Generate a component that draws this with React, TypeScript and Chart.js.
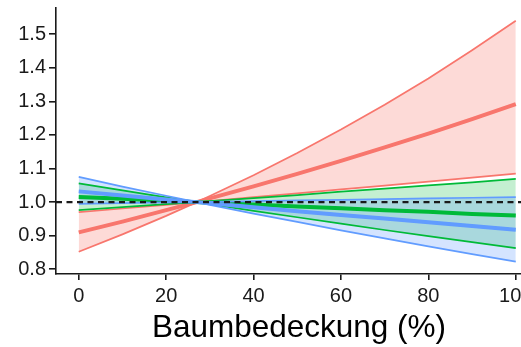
import React, { useEffect, useRef } from "react";
import { Chart, registerables } from "chart.js";

Chart.register(...registerables);

// Tree cover (%) at which the curves are sampled
const coverage = [0, 10, 20, 27, 30, 40, 50, 60, 70, 80, 90, 100];

// Relative effect with confidence band, one group per colour
const redMean = [0.910, 0.942, 0.976, 1.000, 1.011, 1.047, 1.084, 1.123, 1.163, 1.204, 1.247, 1.292];
const redUpper = [0.970, 0.981, 0.992, 1.000, 1.018, 1.080, 1.146, 1.216, 1.290, 1.368, 1.452, 1.540];
const redLower = [0.852, 0.904, 0.959, 1.000, 1.003, 1.015, 1.026, 1.038, 1.049, 1.061, 1.073, 1.085];

const greenMean = [1.015, 1.010, 1.004, 1.000, 0.998, 0.993, 0.987, 0.982, 0.976, 0.971, 0.965, 0.960];
const greenUpper = [1.056, 1.035, 1.014, 1.000, 1.003, 1.012, 1.021, 1.031, 1.040, 1.050, 1.059, 1.069];
const greenLower = [0.976, 0.985, 0.994, 1.000, 0.994, 0.974, 0.955, 0.936, 0.917, 0.899, 0.881, 0.863];

const blueMean = [1.032, 1.020, 1.008, 1.000, 0.997, 0.985, 0.973, 0.962, 0.951, 0.940, 0.929, 0.918];
const blueUpper = [1.075, 1.046, 1.019, 1.000, 1.001, 1.003, 1.005, 1.007, 1.009, 1.011, 1.013, 1.015];
const blueLower = [0.995, 0.997, 0.999, 1.000, 0.992, 0.966, 0.941, 0.916, 0.892, 0.868, 0.845, 0.823];

const xTicks = [0, 20, 40, 60, 80, 100];
const yTicks = [0.8, 0.9, 1.0, 1.1, 1.2, 1.3, 1.4, 1.5];
const REF_LEVEL = 1.0;
const X_TITLE = "Baumbedeckung (%)";

const RED = "#F8766D";
const GREEN = "#00BA38";
const BLUE = "#619CFF";
const INK = "#1a1a1a";
const FONT = "'Liberation Sans', Arial, sans-serif";

const pts = (ys: number[]) => coverage.map((x, i) => ({ x, y: ys[i] }));

function rgba(hex: string, a: number) {
  const n = parseInt(hex.slice(1), 16);
  return `rgba(${(n >> 16) & 255}, ${(n >> 8) & 255}, ${n & 255}, ${a})`;
}

function group(color: string, mean: number[], upper: number[], lower: number[], alpha: number) {
  return [
    {
      data: pts(mean),
      borderColor: color,
      borderWidth: 4,
      pointRadius: 0,
      fill: false,
    },
    {
      data: pts(upper),
      borderColor: color,
      borderWidth: 1.7,
      pointRadius: 0,
      fill: "+1",
      backgroundColor: rgba(color, alpha),
    },
    {
      data: pts(lower),
      borderColor: color,
      borderWidth: 1.7,
      pointRadius: 0,
      fill: false,
    },
  ];
}

// Dashed reference line at a ratio of 1
const refLine = {
  id: "refLine",
  afterDatasetsDraw(chart: any) {
    const { ctx, chartArea, scales } = chart;
    const y = scales.y.getPixelForValue(REF_LEVEL);
    ctx.save();
    ctx.beginPath();
    ctx.setLineDash([6, 4.5]);
    ctx.lineWidth = 2.2;
    ctx.strokeStyle = INK;
    ctx.moveTo(chartArea.left, y);
    ctx.lineTo(chartArea.right, y);
    ctx.stroke();
    ctx.restore();
  },
};

export default function App() {
  const canvasRef = useRef<HTMLCanvasElement | null>(null);

  useEffect(() => {
    const canvas = canvasRef.current;
    if (!canvas) return;

    // first dataset is drawn last (on top)
    const datasets = [
      ...group(BLUE, blueMean, blueUpper, blueLower, 0.27),
      ...group(GREEN, greenMean, greenUpper, greenLower, 0.23),
      ...group(RED, redMean, redUpper, redLower, 0.27),
    ];

    const chart = new Chart(canvas, {
      type: "line",
      data: { datasets: datasets as any },
      plugins: [refLine],
      options: {
        animation: false,
        responsive: false,
        devicePixelRatio: 1,
        layout: { padding: { top: 8, left: 0, right: 0, bottom: 0 } },
        elements: { line: { tension: 0 } },
        plugins: {
          legend: { display: false },
          tooltip: { enabled: false },
          filler: { drawTime: "beforeDatasetsDraw" } as any,
        },
        scales: {
          x: {
            type: "linear",
            min: -5.2,
            max: 106,
            afterBuildTicks: (s: any) => {
              s.ticks = xTicks.map((v) => ({ value: v }));
            },
            afterFit: (s: any) => {
              s.height = 73;
              s.paddingLeft = 0;
              s.paddingRight = 0;
            },
            grid: {
              drawOnChartArea: false,
              drawTicks: true,
              tickLength: 6,
              color: INK,
              lineWidth: 1.6,
            },
            border: { color: INK, width: 1.6 },
            ticks: {
              color: INK,
              padding: 4,
              maxRotation: 0,
              autoSkip: false,
              font: { family: FONT, size: 20 },
              callback: (v: any) => String(v),
            },
            title: {
              display: true,
              text: X_TITLE,
              color: "#000",
              padding: { top: 4, bottom: 0 },
              font: { family: FONT, size: 31.5 },
            },
          },
          y: {
            type: "linear",
            min: 0.786,
            max: 1.578,
            afterBuildTicks: (s: any) => {
              s.ticks = yTicks.map((v) => ({ value: v }));
            },
            afterFit: (s: any) => {
              s.width = 56;
              s.paddingTop = 0;
              s.paddingBottom = 0;
            },
            grid: {
              drawOnChartArea: false,
              drawTicks: true,
              tickLength: 7,
              color: INK,
              lineWidth: 1.6,
            },
            border: { color: INK, width: 1.6 },
            ticks: {
              color: INK,
              padding: 3,
              autoSkip: false,
              font: { family: FONT, size: 20 },
              callback: (v: any) => Number(v).toFixed(1),
            },
          },
        },
      },
    });

    return () => chart.destroy();
  }, []);

  return (
    <div
      style={{
        position: "fixed",
        left: 0,
        top: 0,
        width: 521,
        height: 347,
        overflow: "hidden",
        background: "#fff",
      }}
    >
      <canvas ref={canvasRef} width={542} height={347} style={{ display: "block" }} />
    </div>
  );
}
